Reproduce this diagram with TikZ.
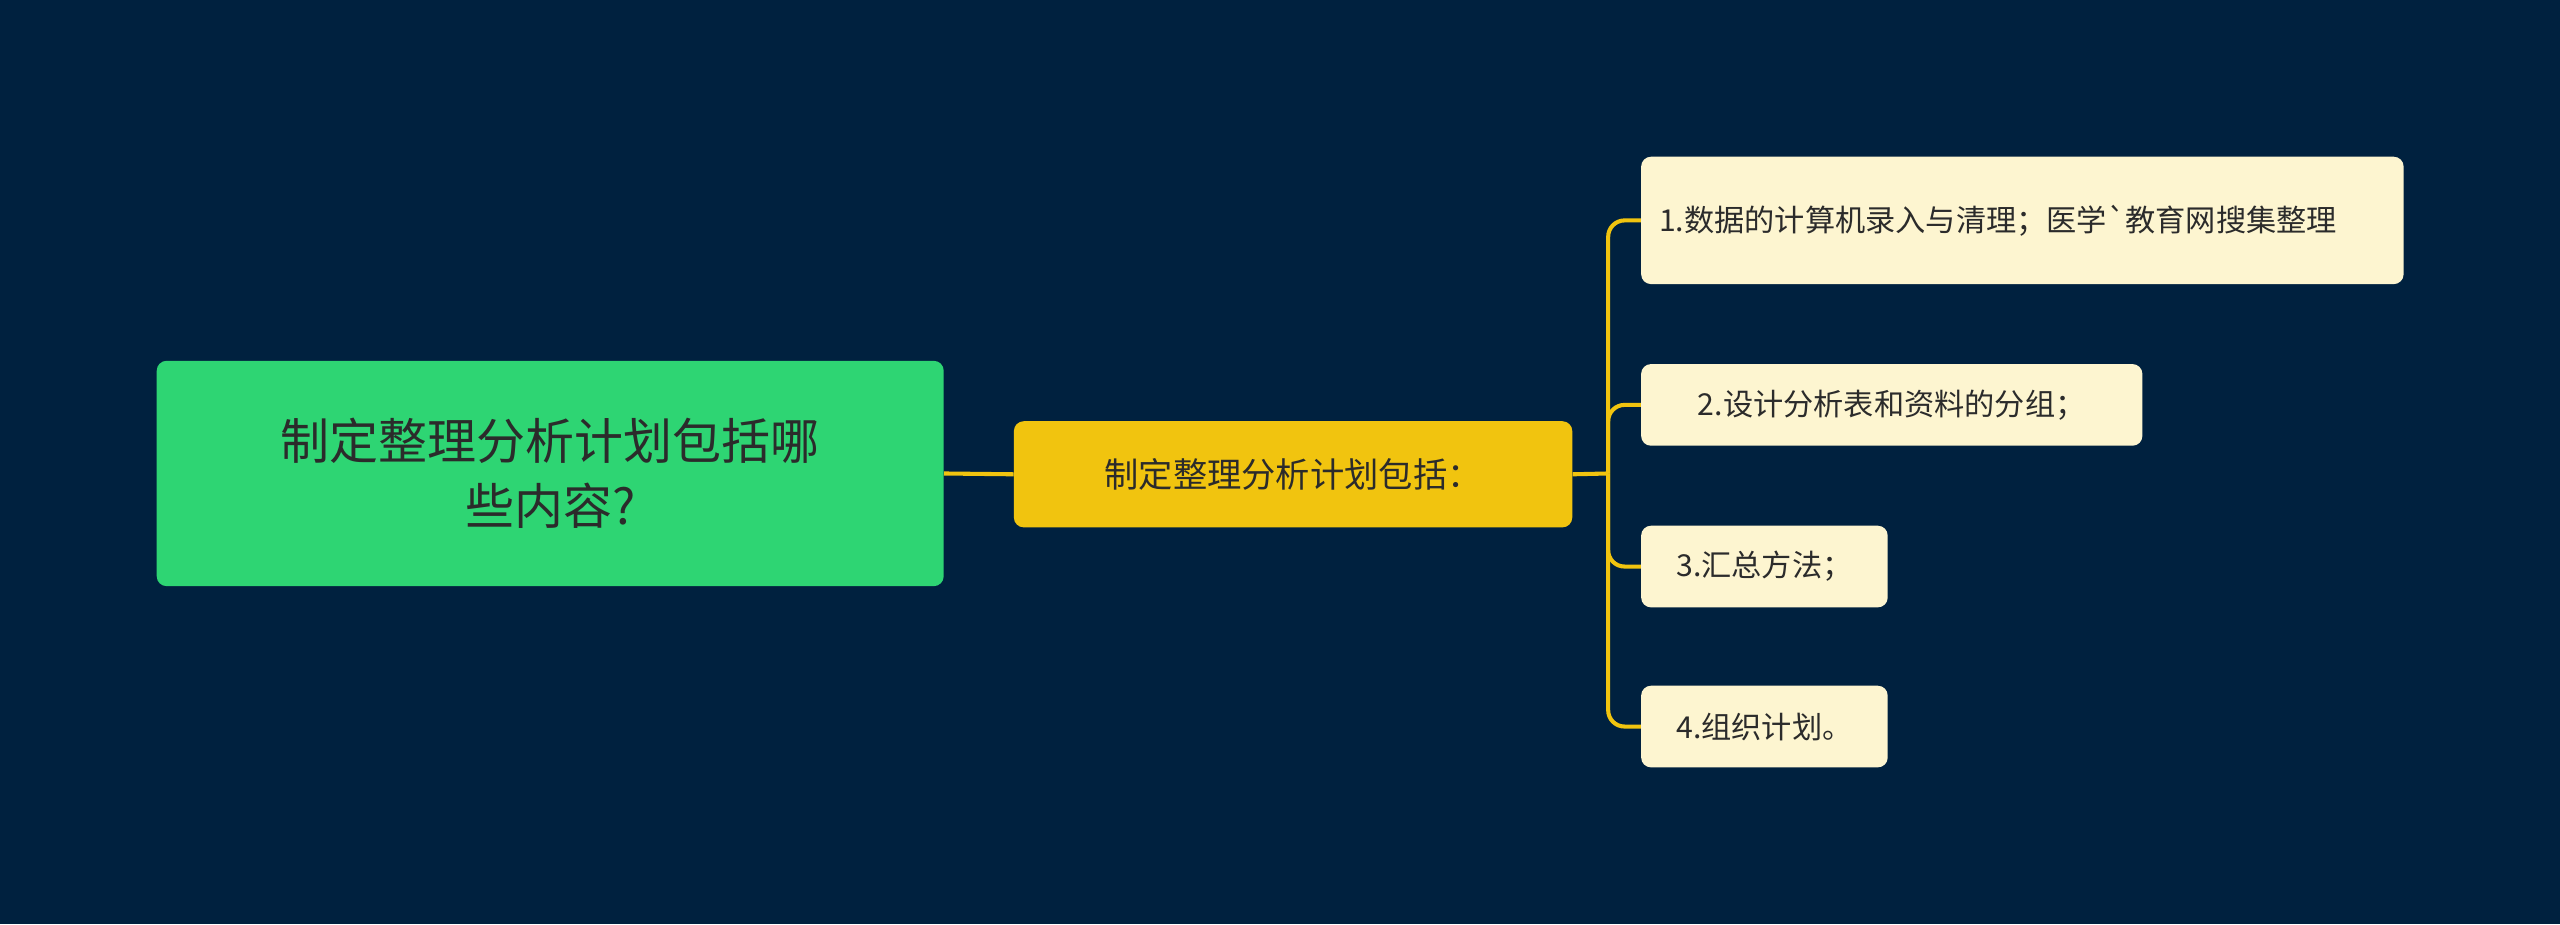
\documentclass[tikz,border=0pt]{standalone}
\usepackage{fontspec}
\newfontfamily\cjk{Noto Sans CJK SC}
\definecolor{bg}{HTML}{00213F}
\definecolor{rootc}{HTML}{2ED573}
\definecolor{midc}{HTML}{F1C40F}
\definecolor{leafc}{HTML}{FDF5D0}
\definecolor{txt}{HTML}{2B2B2B}
\tikzset{
 box/.style={rounded corners=6pt,inner sep=0pt,text=txt,font=\cjk},
 link/.style={draw=midc,line width=2.5pt,rounded corners=10pt}
}
\begin{document}
\begin{tikzpicture}[x=1pt,y=-1pt]
\fill[bg] (0,0) rectangle (1568,566);
\useasboundingbox (0,0) rectangle (1568,566);
\node[box,fill=rootc,minimum width=482pt,minimum height=138pt,align=center,font=\cjk\fontsize{30}{40}\selectfont] (root) at (337,290) {制定整理分析计划包括哪\\些内容?};
\node[box,fill=midc,minimum width=342pt,minimum height=65pt,font=\cjk\fontsize{21}{26}\selectfont] (mid) at (792,290.5) {制定整理分析计划包括：};
\tikzset{leaf/.style={box,fill=leafc,anchor=west,font=\cjk\fontsize{18.5}{29}\selectfont,minimum height=50pt,align=left,inner xsep=11pt}}
\node[leaf,text width=445pt,minimum height=78pt] (c1) at (1005,135) {1.数据的计算机录入与清理；医学`教育网搜集整理};
\node[leaf,minimum width=307pt] (c2) at (1005,248) {2.设计分析表和资料的分组；};
\node[leaf,minimum width=151pt] (c3) at (1005,347) {3.汇总方法；};
\node[leaf,minimum width=151pt] (c4) at (1005,445) {4.组织计划。};
\draw[link] (root.east) -- (mid.west);
\coordinate (bus) at (985,290);
\draw[link] (mid.east) -- (bus);
\foreach \c in {c1,c2,c3,c4}{
 \draw[link] (bus) |- (\c.west);
}
\end{tikzpicture}
\end{document}
